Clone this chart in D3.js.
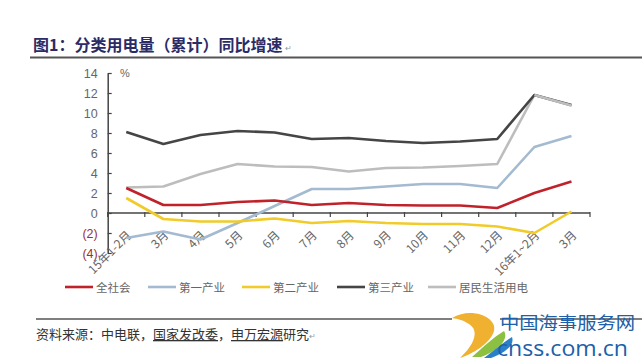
<!DOCTYPE html>
<html><head><meta charset="utf-8">
<script src="https://cdn.jsdelivr.net/npm/d3@7"></script>
<style>
body{margin:0;background:#fff;}
svg{display:block;}
</style>
</head><body>
<svg id="c" width="642" height="361"></svg>
<script>
const categories = ["15年1-2月","3月","4月","5月","6月","7月","8月","9月","10月","11月","12月","16年1~2月","3月"];
const seriesNames = ["全社会","第一产业","第二产业","第三产业","居民生活用电"];
const quanshehui = [2.5,0.8,0.8,1.1,1.25,0.8,1.0,0.8,0.75,0.75,0.5,2.0,3.15];
const diyi = [-2.5,-1.85,-2.65,-1.0,0.7,2.4,2.4,2.65,2.9,2.9,2.5,6.6,7.7];
const dier = [1.5,-0.6,-0.85,-0.85,-0.55,-1.0,-0.8,-1.0,-1.1,-1.1,-1.35,-2.0,0.15];
const disan = [8.1,6.9,7.8,8.2,8.05,7.4,7.5,7.2,7.0,7.15,7.4,11.8,10.8];
const jumin = [2.55,2.65,3.9,4.9,4.65,4.6,4.15,4.5,4.55,4.7,4.9,11.8,10.75];
const yTicks = [-4,-2,0,2,4,6,8,10,12,14];
const colors = ["#c0222a","#a3bad0","#f0cb2a","#454545","#bdbdbd"];

const svg = d3.select("#c");
const x = d3.scaleBand().domain(d3.range(categories.length)).range([107.7,590]);
const y = d3.scaleLinear().domain([-4,14]).range([253,73]);
const cx = i => x(i) + x.bandwidth()/2;

// Title
svg.append("text").attr("x",33).attr("y",51)
  .attr("font-family","Noto Sans CJK SC").attr("font-weight","bold").attr("font-size",16)
  .attr("fill","#2b2b66").text("图1：分类用电量（累计）同比增速");
svg.append("text").attr("x",285).attr("y",51).attr("font-size",8).attr("fill","#999").text("↵");
svg.append("line").attr("x1",30).attr("x2",642).attr("y1",57.5).attr("y2",57.5)
  .attr("stroke","#555").attr("stroke-width",2);

// Y axis
const yAxis = d3.axisLeft(y).tickValues(yTicks).tickSizeInner(-4).tickSizeOuter(0).tickPadding(10)
  .tickFormat(d => d < 0 ? "(" + Math.abs(d) + ")" : d);
const gy = svg.append("g").attr("transform","translate(107.7,0)").call(yAxis);
gy.select(".domain").attr("stroke","#444").attr("stroke-width",1.5);
gy.selectAll(".tick line").attr("stroke","#444").attr("stroke-width",1.2);
gy.selectAll(".tick text").attr("font-family","Liberation Sans, Arial").attr("font-size",12.5)
  .attr("fill", d => d < 0 ? "#9b3030" : "#666");
svg.append("text").attr("x",120).attr("y",77).attr("font-family","Liberation Sans").attr("font-size",11)
  .attr("fill","#666").text("%");

// X axis at zero
const y0 = y(0);
svg.append("line").attr("x1",x.range()[0]).attr("x2",x.range()[1]).attr("y1",y0).attr("y2",y0)
  .attr("stroke","#444").attr("stroke-width",1.5);
const bounds = categories.map((c,i)=>x(i)).concat([x.range()[1]]);
svg.selectAll(".xt").data(bounds).enter().append("line")
  .attr("x1",d=>d).attr("x2",d=>d).attr("y1",y0-1).attr("y2",y0+4)
  .attr("stroke","#444").attr("stroke-width",1.2);
svg.selectAll(".xl").data(categories).enter().append("text")
  .attr("transform",(d,i)=>`translate(${cx(i)+6},${y0+23}) rotate(-45)`)
  .attr("text-anchor","end").attr("font-family","Noto Sans CJK SC").attr("font-size",12)
  .attr("fill","#666").text(d=>d);

// Lines
const seriesData = [quanshehui, diyi, dier, disan, jumin];
const line = d3.line().x((d,i)=>cx(i)).y(d=>y(d));
const order = [4,3,1,2,0];
order.forEach(k=>{
  svg.append("path").datum(seriesData[k]).attr("d",line).attr("fill","none")
    .attr("stroke",colors[k]).attr("stroke-width",2.6).attr("stroke-linejoin","round");
});
svg.append("path").datum(jumin.slice(11)).attr("d",d3.line().x((d,i)=>cx(i+11)).y(d=>y(d)))
  .attr("fill","none").attr("stroke",colors[4]).attr("stroke-width",2.6);

// Legend
const legX = [65,148,242,337,428];
seriesNames.forEach((n,k)=>{
  svg.append("line").attr("x1",legX[k]).attr("x2",legX[k]+28).attr("y1",287).attr("y2",287)
    .attr("stroke",colors[k]).attr("stroke-width",2.6);
  svg.append("text").attr("x",legX[k]+31).attr("y",291.5).attr("font-family","Noto Sans CJK SC")
    .attr("font-size",11.5).attr("fill","#666").text(n);
});

// Source
svg.append("line").attr("x1",36).attr("x2",642).attr("y1",319).attr("y2",319)
  .attr("stroke","#555").attr("stroke-width",1.5);
const src = svg.append("text").attr("x",36).attr("y",339).attr("font-family","Noto Sans CJK SC")
  .attr("font-size",13).attr("fill","#333");
src.append("tspan").text("资料来源：中电联，");
src.append("tspan").attr("text-decoration","underline").text("国家发改委");
src.append("tspan").text("，");
src.append("tspan").attr("text-decoration","underline").text("申万宏源");
src.append("tspan").text("研究");
src.append("tspan").attr("font-size",8).attr("fill","#999").text("↵");

// Watermark
const wm = svg.append("g");
wm.append("rect").attr("x",452).attr("y",312).attr("width",48).attr("height",14).attr("fill","#fff");
wm.append("path").attr("d","M452,318 C472,306 498,318 494,331 C490,344 472,354 460,358 C474,345 480,331 469,324 C463,320 458,319 452,318 Z")
  .attr("fill","#f0b030");
wm.append("path").attr("d","M472,357 C484,346 494,337 504,331 C509,339 499,350 481,357 Z").attr("fill","#8cc040");
wm.append("path").attr("d","M484,358 C496,349 505,341 512,337 C515,345 505,353 491,358 Z").attr("fill","#2a80c8");
wm.append("text").attr("x",500).attr("y",329).attr("font-family","Noto Sans CJK SC")
  .attr("font-size",17).attr("textLength",135).attr("lengthAdjust","spacingAndGlyphs")
  .attr("fill","#2060a8").text("中国海事服务网");
wm.append("text").attr("x",497).attr("y",356).attr("font-family","Open Sans, Noto Sans")
  .attr("font-size",22).attr("textLength",131).attr("lengthAdjust","spacingAndGlyphs")
  .attr("fill","#2060a8").text("cnss.com.cn");
</script>
</body></html>
